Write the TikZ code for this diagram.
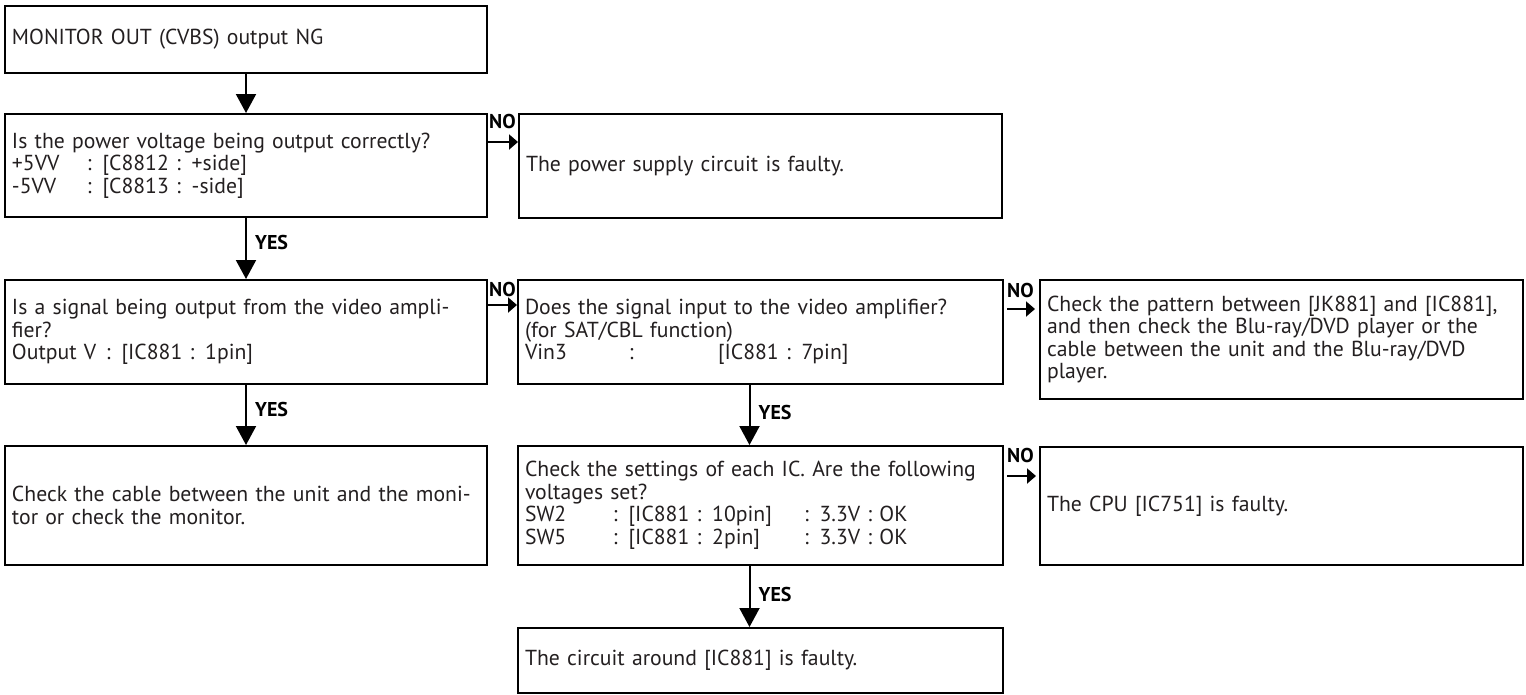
\documentclass[tikz,border=0pt]{standalone}
\usepackage{fontspec}
\setmainfont{PT Sans}
\usetikzlibrary{arrows.meta}
\definecolor{ink}{HTML}{231F20}
\begin{document}
\begin{tikzpicture}[x=1pt,y=-1pt,
  box/.style={draw=black, line width=2pt, anchor=north west, align=left,
    inner xsep=7pt, inner ysep=0pt, text=ink,
    font=\fontsize{21.7}{22.5}\selectfont},
  varrow/.style={line width=2pt, -{Triangle[length=19pt,width=20pt]}},
  harrow/.style={line width=2pt, -{Triangle[length=9pt,width=15pt]}},
  lbl/.style={font=\bfseries\fontsize{20}{20}\selectfont, inner sep=0pt, text=black},
]
\useasboundingbox (0,0) rectangle (1526,694);

\node[box, minimum width=482, minimum height=67, text width=468] (b1) at (4,5)
  {MONITOR OUT (CVBS) output NG};
\node[box, minimum width=482, minimum height=103, text width=468] (b2) at (4,113)
  {Is the power voltage being output correctly?\\
   \makebox[75pt][l]{+5VV}: [C8812 : +side]\\
   \makebox[75pt][l]{-5VV}: [C8813 : -side]};
\node[box, minimum width=483, minimum height=104, text width=469] (bp) at (518,113)
  {The power supply circuit is faulty.};
\node[box, minimum width=482, minimum height=104, text width=468] (b3) at (4,279)
  {Is a signal being output from the video ampli-\\
   fier?\\
   \makebox[94pt][l]{Output V}: [IC881 : 1pin]};
\node[box, minimum width=485, minimum height=104, text width=471] (b4) at (517,279)
  {Does the signal input to the video amplifier?\\
   (for SAT/CBL function)\\
   \makebox[104pt][l]{Vin3}\makebox[89pt][l]{:}[IC881 : 7pin]};
\node[box, minimum width=483, minimum height=119, text width=469] (b5) at (1039,279)
  {Check the pattern between [JK881] and [IC881],\\
   and then check the Blu-ray/DVD player or the\\
   cable between the unit and the Blu-ray/DVD\\
   player.};
\node[box, minimum width=482, minimum height=119, text width=468] (b6) at (4,445)
  {Check the cable between the unit and the moni-\\
   tor or check the monitor.};
\node[box, minimum width=485, minimum height=119, text width=471] (b7) at (517,445)
  {Check the settings of each IC. Are the following\\
   voltages set?\\
   \makebox[88pt][l]{SW2}\makebox[191pt][l]{: [IC881 : 10pin]}: 3.3V : OK\\
   \makebox[88pt][l]{SW5}\makebox[191pt][l]{: [IC881 : 2pin]}: 3.3V : OK};
\node[box, minimum width=483, minimum height=118, text width=469] (b8) at (1039,446)
  {The CPU [IC751] is faulty.};
\node[box, minimum width=485, minimum height=65, text width=471] (b9) at (517,627)
  {The circuit around [IC881] is faulty.};

% vertical YES arrows
\draw[varrow] (b1.south) -- (b2.north);
\draw[varrow] (b2.south) -- (b3.north);
\draw[varrow] (b3.south) -- (b6.north);
\draw[varrow] ([xshift=-11]b4.south) -- ([xshift=-11]b7.north);
\draw[varrow] ([xshift=-11]b7.south) -- ([xshift=-11]b9.north);

\node[lbl, anchor=west] (y1) at ([xshift=9, yshift=-24]b2.south) {YES};
\node[lbl, anchor=west] (y2) at ([xshift=9, yshift=-24]b3.south) {YES};
\node[lbl, anchor=west] (y3) at ([xshift=-2, yshift=-27]b4.south) {YES};
\node[lbl, anchor=west] (y4) at ([xshift=-2, yshift=-28]b7.south) {YES};

% horizontal NO arrows
\draw[harrow] ([yshift=-29]b2.north east) -- ([yshift=-29]bp.north west);
\draw[harrow] ([yshift=-26]b3.north east) -- ([yshift=-26]b4.north west);
\draw[harrow] ([xshift=3, yshift=-30]b4.north east) -- ([xshift=-4, yshift=-30]b5.north west);
\draw[harrow] ([xshift=3, yshift=-31]b7.north east) -- ([xshift=-3, yshift=-30]b8.north west);

\node[lbl, anchor=north west] (n1) at ([xshift=1, yshift=-1]b2.north east) {NO};
\node[lbl, anchor=north west] (n2) at ([xshift=1, yshift=-3]b3.north east) {NO};
\node[lbl, anchor=north west] (n3) at ([xshift=3, yshift=-4]b4.north east) {NO};
\node[lbl, anchor=north west] (n4) at ([xshift=3, yshift=-3]b7.north east) {NO};
\end{tikzpicture}
\end{document}
